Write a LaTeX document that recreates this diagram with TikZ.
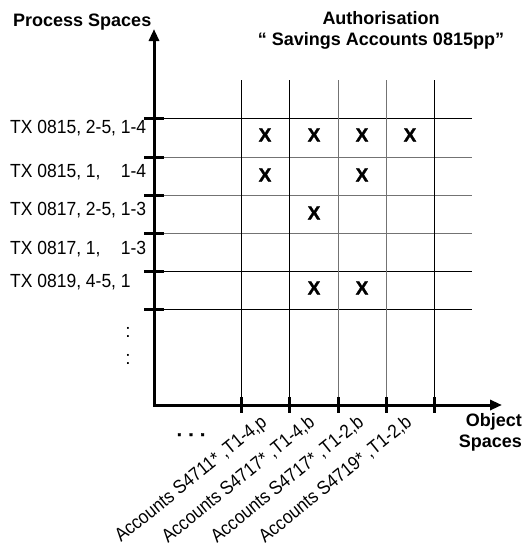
\documentclass[tikz,border=0pt]{standalone}
\usepackage{fontspec}
\setmainfont{Liberation Sans}
\newfontfamily\narrowf{Liberation Sans}[FakeStretch=0.92]
\newfontfamily\labf{Liberation Sans}[FakeStretch=0.9]
\newfontfamily\heavyf{Liberation Sans Bold}[FakeBold=1.5]
\usetikzlibrary{arrows.meta}
\begin{document}
\begin{tikzpicture}[x=1pt,y=-1pt,
  axis/.style={line width=3pt,line join=miter},
  gridline/.style={line width=1pt,black},
  grayline/.style={line width=1pt,black!55},
  tickmark/.style={line width=3pt},
  rowlab/.style={anchor=base west,inner sep=0pt,font=\narrowf\fontsize{19}{19}\selectfont},
  xmark/.style={font=\heavyf\fontsize{19}{19}\selectfont,inner sep=0pt},
  collab/.style={rotate=39,anchor=base east,inner sep=0pt,font=\labf\fontsize{19}{19}\selectfont},
  titletext/.style={font=\bfseries\fontsize{18}{21}\selectfont,inner sep=0pt,align=center}]
\useasboundingbox (0,0) rectangle (523,550);

% coordinates
\coordinate (O) at (154,405);
\coordinate (Ytip) at (154,29);
\coordinate (Xtip) at (502,405);
\foreach \y [count=\i] in {118,157,195,233,271,309} {
  \coordinate (hl\i) at (154,\y);
  \coordinate (hr\i) at (472,\y);
  \coordinate (tl\i) at (144,\y);
  \coordinate (tr\i) at (164,\y);
}
\foreach \x [count=\i] in {241,289,338,386,434} {
  \coordinate (vt\i) at (\x,80);
  \coordinate (vb\i) at (\x,405);
  \coordinate (kt\i) at (\x,397);
  \coordinate (kb\i) at (\x,413);
}

% grid
\draw[gridline] (hl1) -- (hr1);
\draw[grayline] (hl2) -- (hr2);
\draw[grayline] (hl3) -- (hr3);
\draw[grayline] (hl4) -- (hr4);
\draw[gridline] (hl5) -- (hr5);
\draw[gridline] (hl6) -- (hr6);
\draw[gridline] (vt1) -- (vb1);
\draw[gridline] (vt2) -- (vb2);
\draw[grayline] (vt3) -- (vb3);
\draw[grayline] (vt4) -- (vb4);
\draw[gridline] (vt5) -- (vb5);

% axes
\draw[axis,{Triangle[length=12pt,width=10pt]}-{Triangle[length=12pt,width=10pt]}] (Ytip) -- (O) -- (Xtip);
\foreach \i in {1,...,6} { \draw[tickmark] (tl\i) -- (tr\i); }
\foreach \i in {1,...,5} { \draw[tickmark] (kt\i) -- (kb\i); }

% titles
\node[titletext,anchor=base west] (ps) at (13,26) {Process Spaces};
\node[titletext] (auth) at (381,30) {Authorisation\\“ Savings Accounts 0815pp”};
\node[titletext,align=right,anchor=east] (os) at (522,432) {Object\\Spaces};

% row labels
\node[rowlab] (r1) at (10,133) {TX 0815, 2-5, 1-4};
\node[rowlab] (r2) at (10,177) {TX 0815, \rlap{1,}\hphantom{2-5,} 1-4};
\node[rowlab] (r3) at (10,215) {TX 0817, 2-5, 1-3};
\node[rowlab] (r4) at (10,254) {TX 0817, \rlap{1,}\hphantom{2-5,} 1-3};
\node[rowlab] (r5) at (10,287) {TX 0819, 4-5, 1};
\node[font=\fontsize{19}{19}\selectfont,inner sep=0pt] (vd1) at (128,332) {:};
\node[font=\fontsize{19}{19}\selectfont,inner sep=0pt] (vd2) at (128,359) {:};
\node[font=\heavyf\fontsize{18}{18}\selectfont,inner sep=0pt,anchor=base] (hd) at (191,436) {. . .};

% column labels
\node[collab] (c1) at (268,424) {Accounts S4711* ,T1-4,p};
\node[collab] (c2) at (316,424) {Accounts S4717* ,T1-4,b};
\node[collab] (c3) at (365,424) {Accounts S4717* ,T1-2,b};
\node[collab] (c4) at (413,424) {Accounts S4719* ,T1-2,b};

% marks
\node[xmark] (x11) at (265,135) {X};
\node[xmark] (x12) at (314,135) {X};
\node[xmark] (x13) at (362,135) {X};
\node[xmark] (x14) at (410,135) {X};
\node[xmark] (x21) at (265,175) {X};
\node[xmark] (x23) at (362,175) {X};
\node[xmark] (x32) at (314,213) {X};
\node[xmark] (x52) at (314,288) {X};
\node[xmark] (x53) at (362,288) {X};
\end{tikzpicture}
\end{document}
